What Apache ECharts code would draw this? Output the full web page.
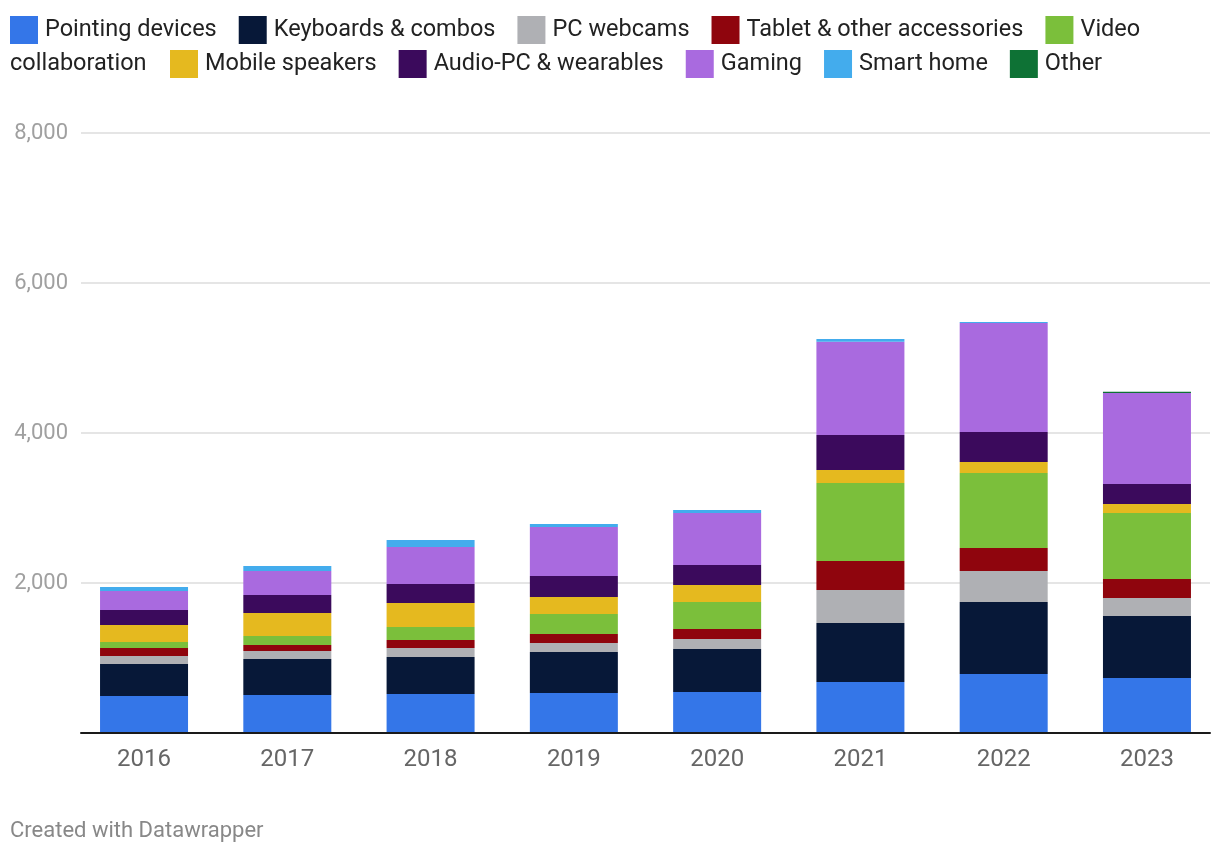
<!DOCTYPE html>
<html>
<head>
<meta charset="utf-8">
<script src="https://cdn.jsdelivr.net/npm/echarts@6/dist/echarts.min.js"></script>
<style>
html,body{margin:0;padding:0;background:#fff;}
#chart{width:1220px;height:856px;}
</style>
</head>
<body>
<div id="chart"></div>
<script>
const years = ['2016','2017','2018','2019','2020','2021','2022','2023'];
const seriesNames = ['Pointing devices','Keyboards & combos','PC webcams','Tablet & other accessories','Video collaboration','Mobile speakers','Audio-PC & wearables','Gaming','Smart home','Other'];
const pointingDevices = [493, 507, 520, 533, 547, 680, 787, 733];
const keyboardsCombos = [427, 480, 493, 547, 573, 787, 960, 827];
const pcWebcams = [107, 107, 120, 120, 133, 440, 413, 240];
const tabletAccessories = [107, 80, 107, 120, 133, 387, 307, 253];
const videoCollaboration = [80, 120, 173, 267, 360, 1040, 1000, 880];
const mobileSpeakers = [227, 307, 320, 227, 227, 173, 146, 120];
const audioWearables = [200, 240, 253, 280, 267, 467, 400, 267];
const gaming = [253, 320, 493, 653, 693, 1244, 1454, 1213];
const smartHome = [53, 67, 93, 40, 40, 36, 13, 0];
const other = [0, 0, 0, 0, 0, 0, 0, 18];
const yTicks = [0, 2000, 4000, 6000, 8000];

const values = [pointingDevices, keyboardsCombos, pcWebcams, tabletAccessories, videoCollaboration, mobileSpeakers, audioWearables, gaming, smartHome, other];
const colors = ['#3476e8','#071838','#afb0b4','#8f050d','#7bbf3b','#e5b91f','#3b0a5c','#a96adf','#43aced','#0e7235'];

const FONT = 'Roboto';
const chart = echarts.init(document.getElementById('chart'), null, {renderer:'canvas'});

const series = seriesNames.map((n, i) => ({
  name: n,
  type: 'bar',
  stack: 'total',
  xAxisIndex: 1,
  yAxisIndex: 1,
  barWidth: 88,
  itemStyle: {color: colors[i]},
  data: values[i],
  emphasis: {disabled: true}
}));

const legendCommon = {
  icon: 'rect',
  itemWidth: 28,
  itemHeight: 28,
  itemGap: 22,
  padding: 0,
  textStyle: {fontFamily: FONT, fontSize: 23.5, color: '#222', padding: [0, 0, 0, 2]},
  selectedMode: false
};

chart.setOption({
  animation: false,
  color: colors,
  textStyle: {fontFamily: FONT},
  legend: [
    Object.assign({}, legendCommon, {
      left: 10, top: 16,
      data: seriesNames.slice(0, 5),
      formatter: n => n === 'Video collaboration' ? 'Video' : n
    }),
    Object.assign({}, legendCommon, {
      left: 170, top: 50,
      data: seriesNames.slice(5)
    })
  ],
  graphic: [
    {type:'text', x: 10, y: 64, style:{text:'collaboration', font:'23.5px Roboto', fill:'#222', verticalAlign:'middle'}},
    {type:'text', x: 10, y: 831, style:{text:'Created with Datawrapper', font:'22px Roboto', fill:'#888', verticalAlign:'middle'}}
  ],
  grid: [
    {left: 81, right: 10, top: 133, bottom: 123},
    {left: 72.4, right: 1.4, top: 133, bottom: 123}
  ],
  xAxis: [
    {type:'category', gridIndex:0, data: years,
     axisLine:{show:true, lineStyle:{color:'#1a1a1a', width:2}},
     axisTick:{show:false}, axisLabel:{show:false}, splitLine:{show:false}, z: 5},
    {type:'category', gridIndex:1, data: years,
     axisLine:{show:false}, axisTick:{show:false},
     axisLabel:{fontFamily: FONT, fontSize: 24, color:'#666', margin: 15}}
  ],
  yAxis: [
    {type:'value', gridIndex:0, min: yTicks[0], max: yTicks[yTicks.length-1], interval: 2000,
     axisLine:{show:false}, axisTick:{show:false},
     axisLabel:{fontFamily: FONT, fontSize: 22, color:'#a0a0a0', margin: 13,
       formatter: v => v === 0 ? '' : v.toLocaleString('en-US')},
     splitLine:{lineStyle:{color:'#e5e5e5', width:2}}},
    {type:'value', gridIndex:1, min: yTicks[0], max: yTicks[yTicks.length-1], interval: 2000,
     show: false, splitLine:{show:false}}
  ],
  series: series
});
</script>
</body>
</html>
